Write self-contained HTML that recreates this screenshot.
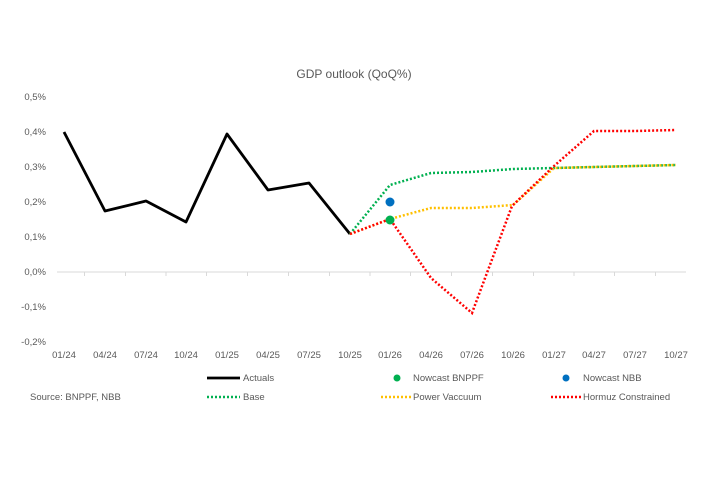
<!DOCTYPE html>
<html><head><meta charset="utf-8"><style>
body{margin:0;background:#fff;}
svg text{font-family:"Liberation Sans",sans-serif;fill:#595959;}
</style></head><body>
<svg width="708" height="472" viewBox="0 0 708 472" xmlns="http://www.w3.org/2000/svg">
<rect width="708" height="472" fill="#fff"/>
<text x="354" y="78" font-size="12" text-anchor="middle" fill="#404040">GDP outlook (QoQ%)</text>
<g font-size="9.5" text-anchor="end">
<text x="46" y="100">0,5%</text>
<text x="46" y="135">0,4%</text>
<text x="46" y="170">0,3%</text>
<text x="46" y="205">0,2%</text>
<text x="46" y="240">0,1%</text>
<text x="46" y="275">0,0%</text>
<text x="46" y="310">-0,1%</text>
<text x="46" y="345">-0,2%</text>
</g>
<line x1="57" y1="272" x2="686" y2="272" stroke="#d9d9d9" stroke-width="1"/>
<g stroke="#d9d9d9" stroke-width="1">
<line x1="84.5" y1="272" x2="84.5" y2="276"/><line x1="125.5" y1="272" x2="125.5" y2="276"/><line x1="166" y1="272" x2="166" y2="276"/><line x1="206.5" y1="272" x2="206.5" y2="276"/>
<line x1="247.5" y1="272" x2="247.5" y2="276"/><line x1="288.5" y1="272" x2="288.5" y2="276"/><line x1="329.5" y1="272" x2="329.5" y2="276"/><line x1="370" y1="272" x2="370" y2="276"/>
<line x1="410.5" y1="272" x2="410.5" y2="276"/><line x1="451.5" y1="272" x2="451.5" y2="276"/><line x1="492.5" y1="272" x2="492.5" y2="276"/><line x1="533.5" y1="272" x2="533.5" y2="276"/>
<line x1="574" y1="272" x2="574" y2="276"/><line x1="614.5" y1="272" x2="614.5" y2="276"/><line x1="655.5" y1="272" x2="655.5" y2="276"/>
</g>
<g font-size="9.5" text-anchor="middle">
<text x="64" y="358">01/24</text><text x="105" y="358">04/24</text><text x="146" y="358">07/24</text><text x="186" y="358">10/24</text>
<text x="227" y="358">01/25</text><text x="268" y="358">04/25</text><text x="309" y="358">07/25</text><text x="350" y="358">10/25</text>
<text x="390" y="358">01/26</text><text x="431" y="358">04/26</text><text x="472" y="358">07/26</text><text x="513" y="358">10/26</text>
<text x="554" y="358">01/27</text><text x="594" y="358">04/27</text><text x="635" y="358">07/27</text><text x="676" y="358">10/27</text>
</g>
<polyline fill="none" stroke="#000" stroke-width="2.8" stroke-linejoin="round" points="64,132 105,211 146,201 186,222 227,134 268,190 309,183 350,234"/>
<polyline fill="none" stroke="#00b050" stroke-width="2.5" stroke-dasharray="2,2" points="350,234 390,185 431,173 472,172 513,169 554,168 594,167 635,166 676,165"/>
<polyline fill="none" stroke="#ffc000" stroke-width="2.5" stroke-dasharray="2,2" points="350,234 390,219 431,208 472,208 513,205 554,168 594,167 635,166 676,165"/>
<polyline fill="none" stroke="#ff0000" stroke-width="2.5" stroke-dasharray="2,2" points="350,234 390,219 431,278 472,313 512,206 554,166 594,131 635,131 676,130"/>
<circle cx="390" cy="202" r="4.5" fill="#0070c0"/>
<circle cx="390" cy="220" r="4.5" fill="#00b050"/>
<g font-size="9.5">
<line x1="207" y1="378" x2="240" y2="378" stroke="#000" stroke-width="2.8"/>
<text x="243" y="381">Actuals</text>
<circle cx="397" cy="378" r="3.5" fill="#00b050"/>
<text x="413" y="381">Nowcast BNPPF</text>
<circle cx="566" cy="378" r="3.5" fill="#0070c0"/>
<text x="583" y="381">Nowcast NBB</text>
<line x1="207" y1="397" x2="240" y2="397" stroke="#00b050" stroke-width="2.5" stroke-dasharray="2,2"/>
<text x="243" y="400">Base</text>
<line x1="381" y1="397" x2="412" y2="397" stroke="#ffc000" stroke-width="2.5" stroke-dasharray="2,2"/>
<text x="413" y="400">Power Vaccuum</text>
<line x1="551" y1="397" x2="582" y2="397" stroke="#ff0000" stroke-width="2.5" stroke-dasharray="2,2"/>
<text x="583" y="400">Hormuz Constrained</text>
<text x="30" y="400" fill="#404040">Source: BNPPF, NBB</text>
</g>
</svg>
</body></html>
